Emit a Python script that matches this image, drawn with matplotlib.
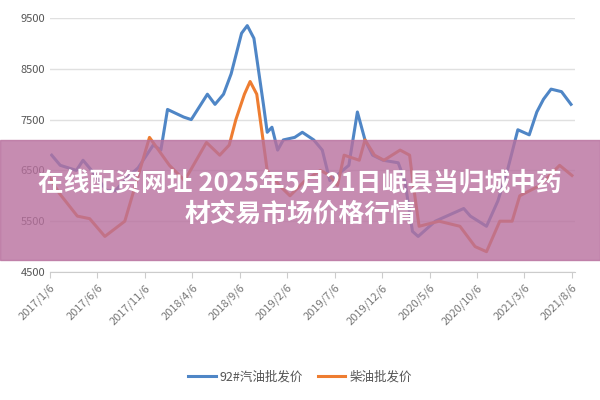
import matplotlib.pyplot as plt
from matplotlib.patches import Rectangle

plt.rcParams["font.family"] = ["Noto Sans CJK SC", "DejaVu Sans"]

# 月份偏移（以 2017/1/6 为 0）
tick_labels = ["2017/1/6", "2017/6/6", "2017/11/6", "2018/4/6", "2018/9/6", "2019/2/6",
               "2019/7/6", "2019/12/6", "2020/5/6", "2020/10/6", "2021/3/6", "2021/8/6"]

gas_x = [0.2, 1.1, 2.8, 3.5, 4.4, 6.0, 6.9, 8.4, 9.3, 10.9, 11.7, 12.4, 14.1, 14.9, 16.6, 17.4,
         18.3, 19.1, 20.2, 20.8, 21.5, 22.5, 22.9, 23.4, 24.0, 24.6, 25.8, 26.6, 27.8, 28.7, 29.5,
         30.2, 31.5, 32.4, 33.2, 34.0, 35.1, 36.7, 37.4, 38.2, 38.8, 40.6, 43.6, 44.3, 46.0,
         47.2, 48.2, 49.3, 50.5, 51.3, 52.0, 52.8, 53.9, 54.9]
gas_y = [6800, 6600, 6500, 6700, 6500, 6100, 6100, 6400, 6550, 7000, 6900, 7700, 7550, 7500,
         8000, 7800, 8000, 8400, 9200, 9350, 9100, 7800, 7250, 7350, 6900, 7100, 7150, 7250,
         7100, 6900, 6300, 6400, 6600, 7650, 7100, 6800, 6700, 6650, 6300, 5300, 5200, 5500,
         5750, 5600, 5400, 5900, 6500, 7300, 7200, 7650, 7900, 8100, 8050, 7800]

diesel_x = [0.0, 1.0, 2.9, 4.2, 5.8, 7.9, 10.5, 12.6, 14.2, 16.5, 17.9, 18.9, 19.6, 20.5, 21.1,
            21.8, 22.9, 24.2, 25.3, 26.9, 28.5, 29.5, 30.3, 31.0, 32.6, 33.2, 34.2, 35.2, 36.9,
            37.9, 38.3, 38.9, 41.0, 43.2, 44.8, 46.0, 47.4, 48.7, 49.5, 51.6, 53.7, 55.0]
diesel_y = [6350, 6050, 5600, 5550, 5200, 5500, 7150, 6600, 6300, 7050, 6800, 7000, 7500, 8000,
            8250, 8000, 6500, 6200, 6000, 6300, 6500, 6400, 6200, 6800, 6700, 7100, 6800, 6700,
            6900, 6800, 6200, 5400, 5500, 5400, 5000, 4900, 5500, 5500, 6000, 6200, 6600, 6400]


def main() -> None:
    fig = plt.figure(figsize=(6, 4), dpi=100)
    ax = fig.add_axes([0.083, 0.32, 0.875, 0.635])
    ax.plot(gas_x, gas_y, color="#4f86c6", lw=2.2, label="92#汽油批发价")
    ax.plot(diesel_x, diesel_y, color="#ee7d31", lw=2.2, label="柴油批发价")

    ax.set_xlim(0, 55.3)
    ax.set_ylim(4500, 9500)
    ax.set_yticks([4500, 5500, 6500, 7500, 8500, 9500])
    ax.set_xticks([5 * i for i in range(len(tick_labels))])
    ax.set_xticklabels(tick_labels, rotation=45, ha="right", rotation_mode="anchor",
                       fontsize=8, color="#777777")
    ax.tick_params(axis="y", length=0, labelsize=8, labelcolor="#555555")
    ax.tick_params(axis="x", length=4, color="#cccccc")
    ax.grid(axis="y", color="#e0e0e0", lw=1)
    for s in ["top", "right", "left"]:
        ax.spines[s].set_visible(False)
    ax.spines["bottom"].set_color("#cccccc")

    fig.legend(loc="center", bbox_to_anchor=(0.5, 0.057), ncol=2, frameon=False,
               fontsize=9, labelcolor="#555555", handlelength=2.2,
               columnspacing=1.2, handletextpad=0.3)

    fig.patches.append(Rectangle((0, 0.35), 1, 0.3, transform=fig.transFigure,
                                 color="#b8709e", alpha=0.8, zorder=5))
    fig.text(0.5, 0.543, "在线配资网址 2025年5月21日岷县当归城中药", ha="center", va="center",
             fontsize=18.5, color="white", fontweight="bold", zorder=6)
    fig.text(0.5, 0.465, "材交易市场价格行情", ha="center", va="center",
             fontsize=18.5, color="white", fontweight="bold", zorder=6)

    fig.savefig("out.png", dpi=100)


if __name__ == "__main__":
    main()
